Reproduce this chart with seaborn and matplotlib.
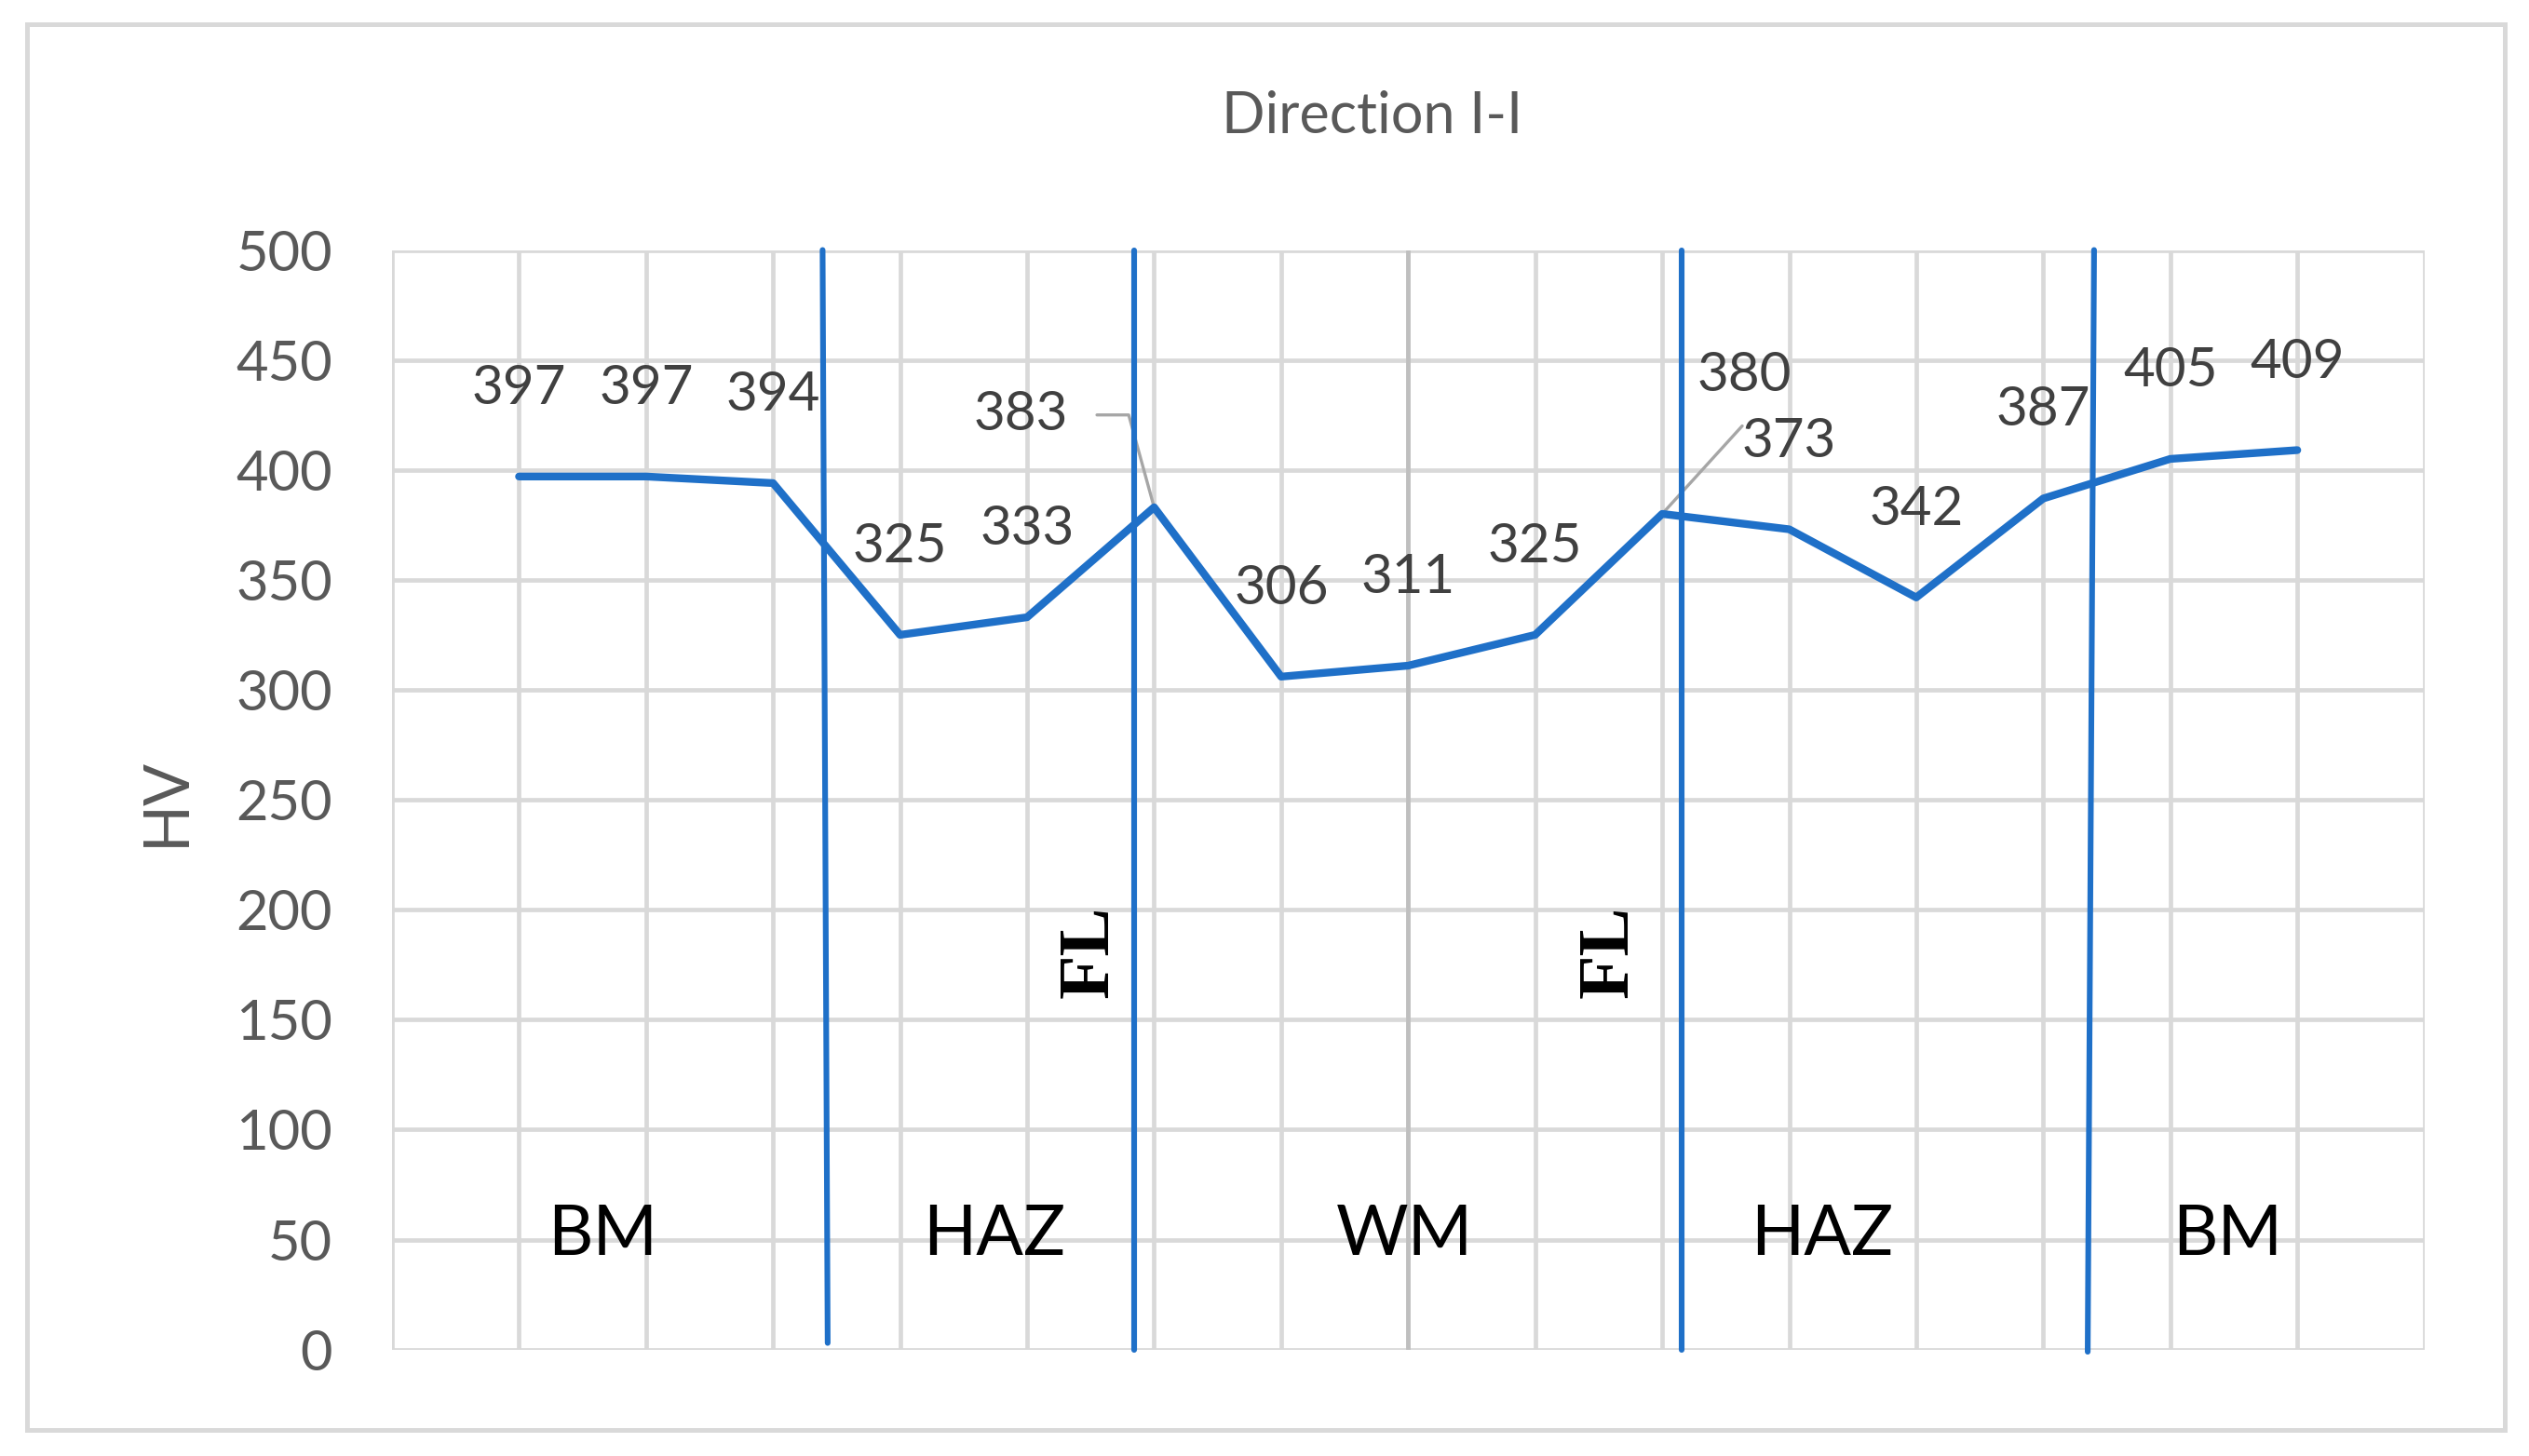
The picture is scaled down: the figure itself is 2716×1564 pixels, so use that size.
import matplotlib
matplotlib.use("Agg")
import matplotlib.pyplot as plt
from matplotlib.patches import Rectangle
import seaborn as sns

# hardness profile, direction I-I
points = list(range(1, 16))
hv = [397, 397, 394, 325, 333, 383, 306, 311, 325, 380, 373, 342, 387, 405, 409]

zones = ["BM", "HAZ", "WM", "HAZ", "BM"]
y_ticks = list(range(0, 501, 50))

# layout (data coords)
zone_x = [1.66, 4.74, 7.97, 11.26, 14.45]
zone_y = 52
bound_top_x = [3.39, 5.84, 10.15, 13.40]
bound_bot_x = [3.43, 5.84, 10.15, 13.35]
bound_bot_y = [3, 0, 0, -1]
fl_x = [5.50, 9.59]
fl_y = 181

BLUE = "#1F70C8"
GRID = "#d9d9d9"
TXT = "#595959"
LBL = "#404040"

sns.set_style("white")
plt.rcParams["font.family"] = ["Lato", "DejaVu Sans"]

fig = plt.figure(figsize=(13.58, 7.82), dpi=200)
ax = fig.add_axes([0.155, 0.0731, 0.8036, 0.7552])

sns.lineplot(x=points, y=hv, ax=ax, color=BLUE, lw=3.0, zorder=4)

ax.set_xlim(0, 16)
ax.set_ylim(0, 500)
ax.set_xticks(range(0, 17))
ax.set_xticklabels([])
ax.set_yticks(y_ticks)
ax.tick_params(axis="both", length=0)
ax.tick_params(axis="y", labelsize=21.5, labelcolor=TXT, pad=23)
ax.grid(True, color=GRID, lw=1.7, zorder=0)
ax.set_axisbelow(True)
for s in ax.spines.values():
    s.set_visible(False)
ax.set_xlabel("")
ax.set_ylabel("")

# darker centre line of the weld
ax.axvline(8, color="#bfbfbf", lw=1.7, zorder=1)

# zone boundaries
for xt, xb, yb in zip(bound_top_x, bound_bot_x, bound_bot_y):
    ax.plot([xt, xb], [500, yb], color=BLUE, lw=2.2, zorder=5, clip_on=False)

# data labels
for i, (x, v) in enumerate(zip(points, hv)):
    if i == 5:
        ax.text(4.95, 425, str(v), ha="center", va="center", fontsize=21, color=LBL)
        ax.plot([5.55, 5.80, 6.0], [425, 425, v], color="#a6a6a6", lw=1.2, zorder=3)
    elif i == 9:
        ax.text(10.65, 443, str(v), ha="center", va="center", fontsize=21, color=LBL)
        ax.plot([10.63, 10.0], [420, v], color="#a6a6a6", lw=1.2, zorder=3)
    else:
        ax.text(x, v + 40, str(v), ha="center", va="center", fontsize=21, color=LBL)

for name, x in zip(zones, zone_x):
    ax.text(x, zone_y, name, ha="center", va="center", fontsize=27, color="black")

for x in fl_x:
    ax.text(x, fl_y, "FL", ha="center", va="center", rotation=90, fontsize=28,
            color="black", fontweight="bold",
            family=["Liberation Serif", "DejaVu Serif"])

fig.text(0.5427, 0.9203, "Direction I-I", ha="center", va="center", fontsize=22, color=TXT)
fig.text(0.0657, 0.4496, "HV", ha="center", va="center", rotation=90, fontsize=24, color=TXT)

fig.patches.append(Rectangle((17 / 1568, 1 - 887 / 903), 1536 / 1568, 872 / 903,
                             transform=fig.transFigure, fill=False,
                             edgecolor=GRID, lw=1.8))

fig.savefig("out.png", dpi=200)
